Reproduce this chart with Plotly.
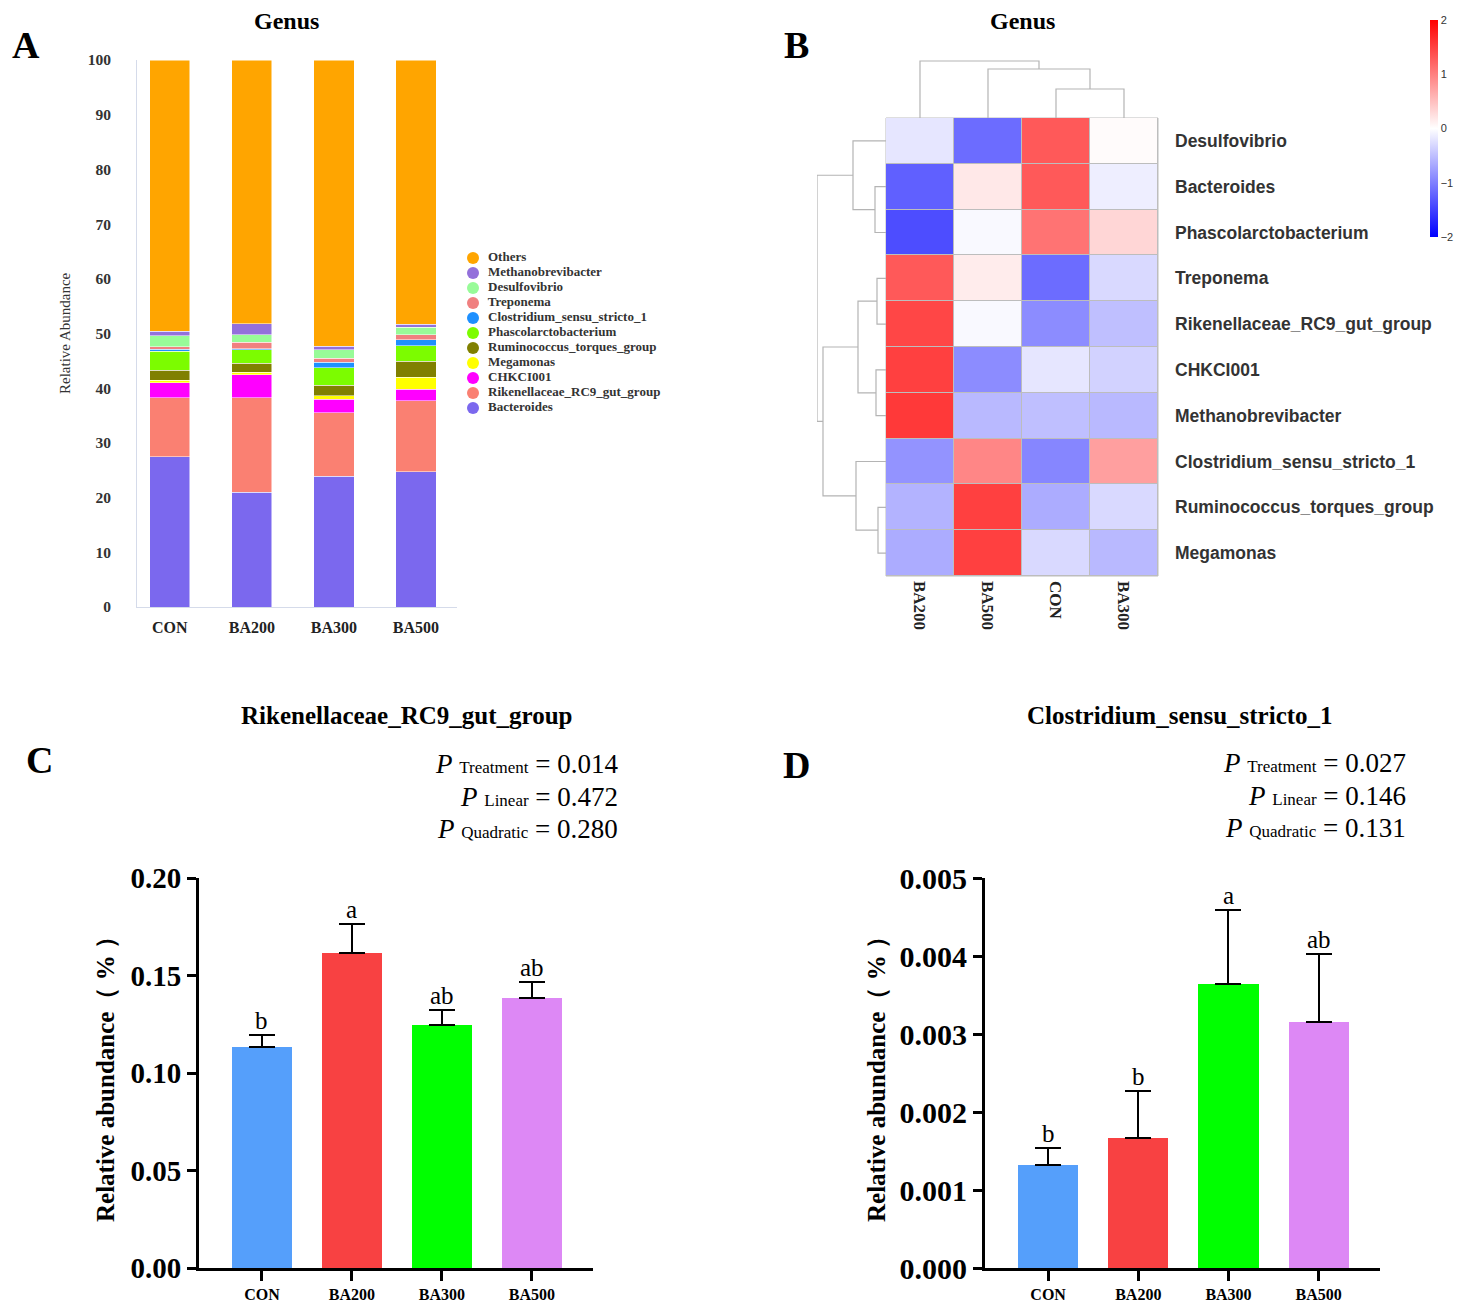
import plotly.graph_objects as go

# the page adds an 8 px body margin, so the figure is drawn 16 px smaller
# and all reference pixel positions are shifted by 8 px
PAD = 8
W, H = 1466 - 2 * PAD, 1311 - 2 * PAD


def px_x(v):
    return (v - PAD) / W


def px_y(v):
    return 1 - (v - PAD) / H


SERIF = "Liberation Serif, Times New Roman, serif"
SANS = "Liberation Sans, Arial, sans-serif"

groups = ["CON", "BA200", "BA300", "BA500"]

# panel A - relative abundance (%) of top genera, order CON / BA200 / BA300 / BA500
bacteroides = [27.5, 21.0, 23.9, 24.7]
rikenellaceae = [10.8, 17.3, 11.6, 13.0]
chkci001 = [2.7, 4.2, 2.5, 2.1]
megamonas = [0.5, 0.4, 0.6, 2.2]
ruminococcus = [1.8, 1.7, 1.9, 2.9]
phascolarctobacterium = [3.5, 2.4, 3.2, 2.9]
clostridium = [0.3, 0.2, 1.0, 1.1]
treponema = [0.5, 1.2, 0.8, 0.9]
desulfovibrio = [2.0, 1.4, 1.5, 1.3]
methanobrevibacter = [0.8, 2.0, 0.7, 0.6]
others = [49.6, 48.2, 52.3, 48.3]

# bottom -> top
stack = [
    ("Bacteroides", bacteroides, "#7B68EE"),
    ("Rikenellaceae_RC9_gut_group", rikenellaceae, "#FA8072"),
    ("CHKCI001", chkci001, "#FF00FF"),
    ("Megamonas", megamonas, "#FFFF00"),
    ("Ruminococcus_torques_group", ruminococcus, "#808000"),
    ("Phascolarctobacterium", phascolarctobacterium, "#7CFC00"),
    ("Clostridium_sensu_stricto_1", clostridium, "#1E90FF"),
    ("Treponema", treponema, "#F08080"),
    ("Desulfovibrio", desulfovibrio, "#98FB98"),
    ("Methanobrevibacter", methanobrevibacter, "#9370DB"),
    ("Others", others, "#FFA500"),
]

# panel B - z-scores, columns in clustered order
heat_cols = ["BA200", "BA500", "CON", "BA300"]
heat_rows = ["Desulfovibrio", "Bacteroides", "Phascolarctobacterium", "Treponema",
             "Rikenellaceae_RC9_gut_group", "CHKCI001", "Methanobrevibacter",
             "Clostridium_sensu_stricto_1", "Ruminococcus_torques_group", "Megamonas"]
z_ba200 = [-0.2, -1.25, -1.4, 1.3, 1.45, 1.5, 1.55, -0.85, -0.6, -0.65]
z_ba500 = [-1.15, 0.18, -0.05, 0.15, -0.05, -0.9, -0.55, 0.95, 1.5, 1.5]
z_con = [1.3, 1.3, 1.1, -1.15, -0.9, -0.2, -0.5, -0.95, -0.65, -0.3]
z_ba300 = [0.03, -0.13, 0.32, -0.3, -0.5, -0.35, -0.55, 0.75, -0.3, -0.55]

# linkage (left, right, distance); leaves are indices, new clusters numbered after them
col_links = [(2, 3, 29), (1, 4, 49), (0, 5, 57)]
row_links = [(1, 2, 11), (0, 10, 33), (3, 4, 9), (5, 6, 10), (12, 13, 28),
             (8, 9, 8), (7, 15, 30), (14, 16, 63), (11, 17, 69)]

# panels C and D - mean and SEM
rc9_mean = [0.1131, 0.1617, 0.1244, 0.1385]
rc9_sem = [0.0065, 0.0146, 0.0077, 0.0084]
rc9_letters = ["b", "a", "ab", "ab"]
clos_mean = [0.001325, 0.001661, 0.003646, 0.003152]
clos_sem = [0.00021, 0.000605, 0.00095, 0.00087]
clos_letters = ["b", "b", "a", "ab"]
bar_colors = ["#559FFB", "#F84142", "#00FF00", "#DD88F5"]


def dendro(links, n):
    pos = {i: float(i) for i in range(n)}
    hgt = {i: 0.0 for i in range(n)}
    p, h = [], []
    for k, (a, b, d) in enumerate(links):
        p += [pos[a], pos[a], pos[b], pos[b], None]
        h += [hgt[a], d, d, hgt[b], None]
        pos[n + k] = (pos[a] + pos[b]) / 2
        hgt[n + k] = d
    return p, h


fig = go.Figure()

# ---- A
for name, vals, col in stack:
    fig.add_trace(go.Bar(x=groups, y=vals, marker=dict(color=col, line=dict(width=0.5, color="white")),
                         width=0.49, name=name, showlegend=False, xaxis="x", yaxis="y"))

# legend drawn as a small marker column (top item = Others)
leg = stack[::-1]
fig.add_trace(go.Scatter(
    x=[0] * len(leg), y=list(range(len(leg))), mode="markers+text",
    marker=dict(symbol="circle", size=12, color=[c for _, _, c in leg]),
    text=["  " + n for n, _, _ in leg], textposition="middle right",
    textfont=dict(family=SERIF, size=13, color="#333", weight="bold"),
    showlegend=False, hoverinfo="skip", cliponaxis=False, xaxis="x7", yaxis="y7"))

# ---- B
z = [[z_ba200[i], z_ba500[i], z_con[i], z_ba300[i]] for i in range(len(heat_rows))]
fig.add_trace(go.Heatmap(
    z=z, x=list(range(4)), y=list(range(len(heat_rows))),
    colorscale=[[0, "#0000FF"], [0.5, "#FFFFFF"], [1, "#FF0000"]],
    zmin=-2, zmax=2, xgap=1, ygap=1, xaxis="x2", yaxis="y2",
    colorbar=dict(x=px_x(1430), xanchor="left", xpad=0, y=px_y(128.5), yanchor="middle",
                  ypad=0, len=217 / H, lenmode="fraction", thickness=8, outlinewidth=0,
                  tickvals=[-2, -1, 0, 1, 2], ticktext=["\u22122", "\u22121", "0", "1", "2"],
                  ticks="", tickfont=dict(family=SANS, size=11, color="#333"))))

cp, ch = dendro(col_links, 4)
fig.add_trace(go.Scatter(x=cp, y=ch, mode="lines", line=dict(color="#B4B4B4", width=1.2),
                         showlegend=False, hoverinfo="skip", xaxis="x3", yaxis="y3"))
rp, rh = dendro(row_links, len(heat_rows))
fig.add_trace(go.Scatter(x=rh, y=rp, mode="lines", line=dict(color="#B4B4B4", width=1.2),
                         showlegend=False, hoverinfo="skip", xaxis="x4", yaxis="y4"))

# ---- C, D
for means, sems, xa, ya in [(rc9_mean, rc9_sem, "x5", "y5"), (clos_mean, clos_sem, "x6", "y6")]:
    fig.add_trace(go.Bar(x=groups, y=means, width=0.667,
                         marker=dict(color=bar_colors, line=dict(width=0)),
                         error_y=dict(type="data", array=sems, arrayminus=[0] * 4, symmetric=False,
                                      color="black", thickness=2, width=13),
                         showlegend=False, xaxis=xa, yaxis=ya))

ann = []
for means, sems, letters, xa, ya in [(rc9_mean, rc9_sem, rc9_letters, "x5", "y5"),
                                     (clos_mean, clos_sem, clos_letters, "x6", "y6")]:
    for g, m, s, t in zip(groups, means, sems, letters):
        ann.append(dict(x=g, y=m + s, xref=xa, yref=ya, text=t, showarrow=False,
                        xanchor="center", yanchor="bottom", yshift=-1,
                        font=dict(family=SERIF, size=25, color="black")))


def label(text, x, y, size, family=SERIF, color="black", angle=0, xanchor="center"):
    ann.append(dict(x=px_x(x), y=px_y(y), xref="paper", yref="paper", text=text,
                    showarrow=False, xanchor=xanchor, yanchor="middle", textangle=angle,
                    font=dict(family=family, size=size, color=color)))


# panel letters and titles
for t, x, y in [("A", 26, 45), ("B", 797, 45), ("C", 40, 760), ("D", 797, 765)]:
    label("<b>%s</b>" % t, x, y, 38)
label("<b>Genus</b>", 286, 21, 24)
label("<b>Genus</b>", 1022, 21, 24)
label("<b>Rikenellaceae_RC9_gut_group</b>", 406, 715, 25)
label("<b>Clostridium_sensu_stricto_1</b>", 1180, 716, 25)

# y titles
label("Relative Abundance", 65, 333, 15, color="#333", angle=-90)
for x in [105, 876]:
    label("<b>Relative abundance（ % ）</b>", x, 1073, 25, angle=-90)

# P values
p_c = [("Treatment", "0.014"), ("Linear", "0.472"), ("Quadratic", "0.280")]
p_d = [("Treatment", "0.027"), ("Linear", "0.146"), ("Quadratic", "0.131")]
for plist, xr, y0 in [(p_c, 620, 764), (p_d, 1408, 763)]:
    for k, (lab, v) in enumerate(plist):
        label("<i>P</i> <span style='font-size:17px'>%s</span> = %s" % (lab, v),
              xr, y0 + 32.5 * k, 27, xanchor="right")

light = "#D5DBEA"
fig.update_layout(
    width=W, height=H, margin=dict(l=0, r=0, t=0, b=0, pad=0, autoexpand=False),
    paper_bgcolor="white", plot_bgcolor="white", barmode="stack", showlegend=False,
    annotations=ann,
    xaxis=dict(domain=[px_x(137), px_x(457)], range=[-0.4, 3.5], anchor="y",
               showline=True, linecolor=light, linewidth=1, ticks="", showgrid=False,
               tickfont=dict(family=SERIF, size=16, color="#222", weight="bold"),
               ticklabelstandoff=6),
    yaxis=dict(domain=[px_y(607), px_y(60)], range=[0, 100], dtick=10, anchor="x",
               showline=True, linecolor=light, linewidth=1, ticks="", showgrid=False,
               zeroline=False, tickfont=dict(family=SERIF, size=15.5, color="#333", weight="bold"),
               ticklabelstandoff=22),
    xaxis7=dict(domain=[px_x(466), px_x(666)], range=[-7, 193], anchor="y7", visible=False),
    yaxis7=dict(domain=[px_y(415.5), px_y(250.5)], range=[10.5, -0.5], anchor="x7", visible=False),
    xaxis2=dict(domain=[px_x(886), px_x(1158)], range=[-0.5, 3.5], anchor="y2",
                tickvals=list(range(4)), ticktext=heat_cols, tickangle=90, ticks="",
                showgrid=False, zeroline=False, showline=False,
                tickfont=dict(family=SERIF, size=17, color="#222", weight="bold"),
                ticklabelstandoff=4),
    yaxis2=dict(domain=[px_y(576), px_y(118)], range=[len(heat_rows) - 0.5, -0.5], anchor="x2",
                side="right", tickvals=list(range(len(heat_rows))), ticktext=heat_rows, ticks="",
                showgrid=False, zeroline=False, showline=False,
                tickfont=dict(family=SANS, size=17.5, color="#333", weight="bold"),
                ticklabelstandoff=16),
    xaxis3=dict(domain=[px_x(886), px_x(1158)], range=[-0.5, 3.5], anchor="y3", visible=False),
    yaxis3=dict(domain=[px_y(118), px_y(60)], range=[0, 58], anchor="x3", visible=False),
    xaxis4=dict(domain=[px_x(817), px_x(886)], range=[69, 0], anchor="y4", visible=False),
    yaxis4=dict(domain=[px_y(576), px_y(118)], range=[len(heat_rows) - 0.5, -0.5], anchor="x4",
                visible=False),
    xaxis5=dict(domain=[px_x(199), px_x(593)], range=[-0.7, 3.68], anchor="y5",
                showline=True, linecolor="black", linewidth=3, ticks="outside", ticklen=10,
                tickwidth=3, tickcolor="black", showgrid=False,
                tickfont=dict(family=SERIF, size=16, color="black", weight="bold")),
    yaxis5=dict(domain=[px_y(1268), px_y(878)], range=[0, 0.2], dtick=0.05, tickformat=".2f",
                anchor="x5", showline=True, linecolor="black", linewidth=3, ticks="outside",
                ticklen=9, tickwidth=3, tickcolor="black", showgrid=False, zeroline=False,
                tickfont=dict(family=SERIF, size=29, color="black", weight="bold")),
    xaxis6=dict(domain=[px_x(985), px_x(1380)], range=[-0.7, 3.68], anchor="y6",
                showline=True, linecolor="black", linewidth=3, ticks="outside", ticklen=10,
                tickwidth=3, tickcolor="black", showgrid=False,
                tickfont=dict(family=SERIF, size=16, color="black", weight="bold")),
    yaxis6=dict(domain=[px_y(1268), px_y(878)], range=[0, 0.005], dtick=0.001, tickformat=".3f",
                anchor="x6", showline=True, linecolor="black", linewidth=3, ticks="outside",
                ticklen=9, tickwidth=3, tickcolor="black", showgrid=False, zeroline=False,
                tickfont=dict(family=SERIF, size=30, color="black", weight="bold")),
)

fig.add_shape(type="rect", xref="x2 domain", yref="y2 domain", x0=0, x1=1, y0=0, y1=1,
              fillcolor="#BDBDBD", line=dict(color="#BDBDBD", width=1), layer="below")

fig.write_html("out.html")
